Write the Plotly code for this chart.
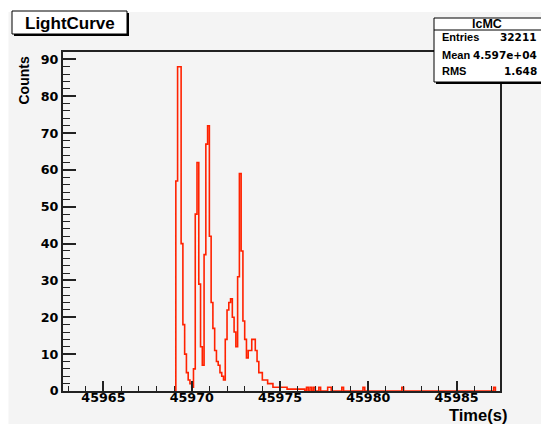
import plotly.graph_objects as go

# ---------------- data ----------------
bin_start = 45969.1
bin_width = 0.1
counts = [
    57, 88, 88, 40, 18, 10, 5, 3, 2, 1,
    6, 48, 62, 29, 12, 7, 37, 67, 72, 42,
    24, 17, 11, 8, 7, 5, 4, 3, 14, 22,
    24, 25, 20, 16, 12, 31, 59, 38, 19, 14,
    9, 11, 11, 14, 14, 11, 8, 5, 5, 3,
    3, 3, 2, 2, 2, 1, 1, 1, 1, 1,
    1, 1, 1, 0.5, 0.5, 0.5, 0.5, 0.5, 0.5, 0.5,
    0.5, 0.5, 0.5, 0, 1, 0, 1, 0, 1, 0,
    0, 1, 0, 0, 0, 0, 1, 1, 0, 0,
    0, 0, 0, 0, 1, 0, 0, 0, 0, 0,
    0, 0, 0, 0, 0, 0, 1, 0, 0, 0,
    0, 0, 0, 0, 0, 0, 0, 0, 0, 0,
    0, 0, 0, 0, 0, 0, 0, 0, 1, 0,
    0, 0, 0, 0, 0, 0, 0, 0, 0, 0,
    0, 0, 0, 0, 0, 0, 0, 0, 0, 0,
    0, 0, 0, 0, 0, 0, 0, 0, 0, 0,
    0, 0, 0, 0, 0, 0, 0, 0, 0, 0,
    0, 0, 0, 0, 0, 0, 0, 0, 0, 0,
    1,
]
x_range = [45962.71, 45987.46]
y_range = [0, 92]
x_ticks = [45965, 45970, 45975, 45980, 45985]
y_ticks = [0, 10, 20, 30, 40, 50, 60, 70, 80, 90]

title_text = "LightCurve"
stats_name = "lcMC"
stats_labels = ["Entries", "Mean", "RMS"]
stats_values = ["32211", "4.597e+04", "1.648"]
x_title = "Time(s)"
y_title = "Counts"

# ---------------- layout helpers ----------------
W, H = 541, 424
ML, MR, MT, MB = 63, 41, 52, 33
PW = W - ML - MR
PH = H - MT - MB


def px(x):
    return (x - ML) / PW


def py(y):
    return (H - MB - y) / PH


edges = [bin_start + i * bin_width for i in range(len(counts) + 1)]
xs = [edges[0]] + edges[:-1] + [edges[-1]]
ys = [0] + counts + [0]

BG = "#f4f4f4"
AX = "#222222"
RED = "#ff2200"

fig = go.Figure()
fig.add_trace(go.Scatter(
    x=xs, y=ys, mode="lines", line=dict(color=RED, width=1.6, shape="hv"),
    hoverinfo="skip", showlegend=False, cliponaxis=True,
))

tickfont = dict(family="DejaVu Sans", size=12.7, weight="bold", color="black")

fig.update_xaxes(
    range=x_range, tickvals=x_ticks, ticktext=[str(v) for v in x_ticks],
    ticks="inside", ticklen=10, tickwidth=1.5, tickcolor=AX,
    minor=dict(dtick=1, tick0=45965, ticks="inside", ticklen=5, tickwidth=1.2, tickcolor=AX),
    showline=True, linecolor=AX, linewidth=2, mirror=True,
    showgrid=False, zeroline=False, tickfont=tickfont, ticklabelstandoff=-6,
)
fig.update_yaxes(
    range=y_range, tickvals=y_ticks, ticktext=[str(v) for v in y_ticks],
    ticks="inside", ticklen=13, tickwidth=1.5, tickcolor=AX,
    minor=dict(dtick=2, tick0=0, ticks="inside", ticklen=6.5, tickwidth=1.2, tickcolor=AX),
    showline=True, linecolor=AX, linewidth=2, mirror=True,
    showgrid=False, zeroline=False, tickfont=tickfont,
)

shapes = [
    dict(type="rect", xref="paper", yref="paper", x0=px(8.5), x1=px(545), y0=py(12), y1=py(430),
         fillcolor=BG, line=dict(width=0), layer="below"),
    # title box shadow + box
    dict(type="rect", xref="paper", yref="paper", x0=px(14), x1=px(129), y0=py(13), y1=py(36),
         fillcolor="black", line=dict(width=0)),
    dict(type="rect", xref="paper", yref="paper", x0=px(12), x1=px(127), y0=py(11), y1=py(34),
         fillcolor="white", line=dict(color="black", width=1)),
    # stats box shadow + box
    dict(type="rect", xref="paper", yref="paper", x0=px(436), x1=px(548), y0=py(20), y1=py(84),
         fillcolor="black", line=dict(width=0)),
    dict(type="rect", xref="paper", yref="paper", x0=px(434), x1=px(548), y0=py(18), y1=py(82),
         fillcolor="white", line=dict(color="black", width=1)),
    dict(type="line", xref="paper", yref="paper", x0=px(434), x1=px(548), y0=py(30), y1=py(30),
         line=dict(color="black", width=1)),
]

ann = []
ann.append(dict(text=title_text, x=px(69.5), y=py(23), xref="paper", yref="paper",
                showarrow=False, xanchor="center", yanchor="middle",
                font=dict(family="Liberation Sans", size=17, weight="bold", color="black")))
ann.append(dict(text=stats_name, x=px(487), y=py(24), xref="paper", yref="paper",
                showarrow=False, xanchor="center", yanchor="middle",
                font=dict(family="Liberation Sans", size=12.5, weight="bold", color="black")))
row_y = [37.5, 54.5, 71]
for lab, val, yy in zip(stats_labels, stats_values, row_y):
    ann.append(dict(text=lab, x=px(440), y=py(yy), xref="paper", yref="paper",
                    showarrow=False, xanchor="left", yanchor="middle",
                    font=dict(family="Liberation Sans", size=11, weight="bold", color="black")))
    ann.append(dict(text=val, x=px(539), y=py(yy), xref="paper", yref="paper",
                    showarrow=False, xanchor="right", yanchor="middle",
                    font=dict(family="DejaVu Sans", size=10.5, weight="bold", color="black")))
ann.append(dict(text=x_title, x=px(509), y=py(415), xref="paper", yref="paper",
                showarrow=False, xanchor="right", yanchor="middle",
                font=dict(family="Liberation Sans", size=16.5, weight="bold", color="black")))
ann.append(dict(text=y_title, x=px(23.5), y=py(81), xref="paper", yref="paper",
                showarrow=False, xanchor="center", yanchor="middle", textangle=-90,
                font=dict(family="Liberation Sans", size=14, weight="bold", color="black")))

fig.update_layout(
    width=W, height=H, margin=dict(l=ML, r=MR, t=MT, b=MB, pad=0),
    paper_bgcolor="white", plot_bgcolor=BG,
    shapes=shapes, annotations=ann, showlegend=False,
)

fig.write_html("out.html")
